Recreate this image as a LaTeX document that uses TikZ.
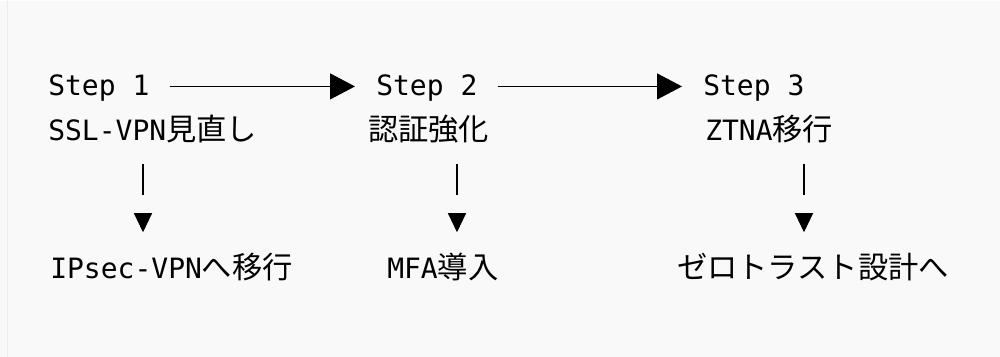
\documentclass[tikz,border=0pt]{standalone}
\usepackage{fontspec}
\setmonofont{DejaVu Sans Mono}
\newfontfamily\jpfont[Scale=1.08]{Noto Sans CJK JP}
\usetikzlibrary{arrows.meta}
\definecolor{codebg}  {RGB}{249,249,249}
\definecolor{codeedge}{RGB}{236,236,236}
\newcommand{\jp}[1]{{\jpfont #1}}

\begin{document}
\begin{tikzpicture}[x=0.75pt, y=-0.75pt,
          txt/.style={anchor=base west,inner sep=0pt,text height=16.8pt,text depth=3.2pt,
                      font=\fontsize{21pt}{25pt}\selectfont\ttfamily},
          flow/.style={-{Triangle[length=18.75pt,width=19.5pt]},line width=0.8pt,
                       shorten <=15pt,shorten >=15.75pt},
          downline/.style={line width=0.8pt,shorten <=14pt,shorten >=45.5pt},
          downtip/.style={-{Triangle[length=14.25pt,width=13.5pt]},line width=0.8pt,
                          shorten <=52pt,shorten >=17.7pt}
      ]
        % code block background
        \fill[codebg] (0,0) rectangle (1000,356);
        \draw[codeedge,line width=0.75pt] (7,0) -- (7,356);
        \useasboundingbox (0,0) rectangle (1000,356);

        \node[txt] (s1) at (48, 95)  {Step 1};
        \node[txt] (s2) at (376,95)  {Step 2};
        \node[txt] (s3) at (703,95)  {Step 3};
        \node[txt] (t1) at (48, 140) {SSL-VPN\jp{見直し}};
        \node[txt] (t2) at (368,140) {\jp{認証強化}};
        \node[txt] (t3) at (705,140) {ZTNA\jp{移行}};
        \node[txt] (b1) at (50, 278) {IPsec-VPN\jp{へ移行}};
        \node[txt] (b2) at (387,278) {MFA\jp{導入}};
        \node[txt] (b3) at (677,278) {\jp{ゼロトラスト設計へ}};

        \coordinate (c1) at (143,0);
        \coordinate (c2) at (457,0);
        \coordinate (c3) at (804,0);

        \draw[flow] (s1) -- (s2);
        \draw[flow] (s2) -- (s3);
        % vertical bar, gap, then the tip
        \draw[downline] (t1.south -| c1) -- (b1.north -| c1);
        \draw[downtip]  (t1.south -| c1) -- (b1.north -| c1);
        \draw[downline] (t2.south -| c2) -- (b2.north -| c2);
        \draw[downtip]  (t2.south -| c2) -- (b2.north -| c2);
        \draw[downline] (t3.south -| c3) -- (b3.north -| c3);
        \draw[downtip]  (t3.south -| c3) -- (b3.north -| c3);
      \end{tikzpicture}
\end{document}
